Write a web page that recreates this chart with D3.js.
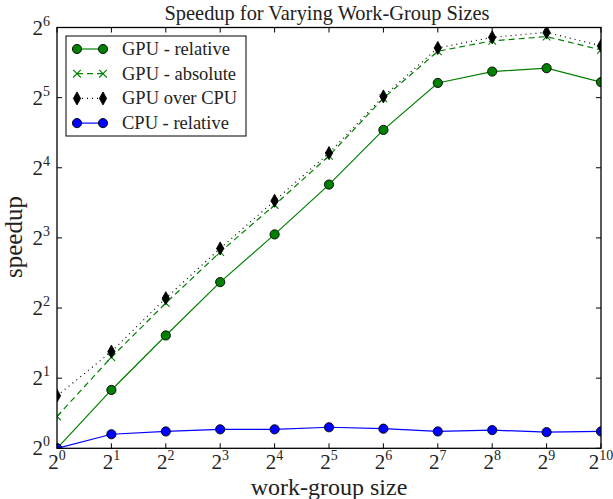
<!DOCTYPE html>
<html>
<head>
<meta charset="utf-8">
<script src="https://cdn.jsdelivr.net/npm/d3@7"></script>
<style>
  body { margin: 0; background: #fff; }
  svg { display: block; }
  text { font-family: "Liberation Serif", "DejaVu Serif", serif; fill: #222; }
</style>
</head>
<body>
<svg id="chart" width="613" height="499"></svg>
<script>
// Work-group sizes (powers of two)
const workGroupSizes = [1, 2, 4, 8, 16, 32, 64, 128, 256, 512, 1024];

// Speedup series
const gpuRelative = [1.0, 1.78, 3.05, 5.17, 8.28, 13.55, 23.26, 37.0, 41.4, 42.8, 37.3];
const gpuAbsolute = [1.37, 2.46, 4.20, 6.96, 11.08, 18.0, 31.8, 50.6, 56.1, 58.5, 51.3];
const gpuOverCpu  = [1.68, 2.60, 4.41, 7.21, 11.55, 18.5, 32.4, 52.3, 58.1, 61.0, 53.4];
const cpuRelative = [1.0, 1.149, 1.181, 1.206, 1.206, 1.231, 1.214, 1.181, 1.197, 1.173, 1.181];

// Tick exponents
const xTickExps = [0, 1, 2, 3, 4, 5, 6, 7, 8, 9, 10];
const yTickExps = [0, 1, 2, 3, 4, 5, 6];

const title = "Speedup for Varying Work-Group Sizes";
const xLabel = "work-group size";
const yLabel = "speedup";

const svg = d3.select("#chart");
const m = { left: 57, right: 601, top: 27.5, bottom: 448.3 };

const x = d3.scaleLog().base(2).domain([1, 1024]).range([m.left, m.right]);
const y = d3.scaleLog().base(2).domain([1, 64]).range([m.bottom, m.top]);

svg.append("defs").append("clipPath").attr("id", "plotClip")
  .append("rect")
  .attr("x", m.left).attr("y", m.top)
  .attr("width", m.right - m.left).attr("height", m.bottom - m.top);

const plot = svg.append("g").attr("clip-path", "url(#plotClip)");

const line = d3.line().x((d, i) => x(workGroupSizes[i])).y(d => y(d));

const series = [
  { name: "GPU - relative", values: gpuRelative, color: "#008000", dash: null, marker: "circle", fill: "#008000" },
  { name: "GPU - absolute", values: gpuAbsolute, color: "#008000", dash: "6,4", marker: "x", fill: "#008000" },
  { name: "GPU over CPU", values: gpuOverCpu, color: "#000", dash: "1,4", marker: "diamond", fill: "#000" },
  { name: "CPU - relative", values: cpuRelative, color: "#0000ff", dash: null, marker: "circle", fill: "#0000ff" }
];

function drawMarker(g, type, cx, cy, fill) {
  if (type === "circle") {
    g.append("circle").attr("cx", cx).attr("cy", cy).attr("r", 4.6)
      .attr("fill", fill).attr("stroke", "#000").attr("stroke-width", 0.9);
  } else if (type === "diamond") {
    g.append("path")
      .attr("d", `M${cx},${cy - 6.5}L${cx + 3.6},${cy}L${cx},${cy + 6.5}L${cx - 3.6},${cy}Z`)
      .attr("fill", fill).attr("stroke", "#000").attr("stroke-width", 0.9);
  } else if (type === "x") {
    const s = 3.8;
    g.append("path")
      .attr("d", `M${cx - s},${cy - s}L${cx + s},${cy + s}M${cx - s},${cy + s}L${cx + s},${cy - s}`)
      .attr("stroke", fill).attr("stroke-width", 1.1).attr("fill", "none");
  }
}

series.forEach(s => {
  plot.append("path")
    .attr("d", line(s.values))
    .attr("fill", "none")
    .attr("stroke", s.color)
    .attr("stroke-width", 1.2)
    .attr("stroke-dasharray", s.dash);
  s.values.forEach((v, i) => drawMarker(plot, s.marker, x(workGroupSizes[i]), y(v), s.fill));
});

// Frame and inward ticks on all four sides
const frame = svg.append("g");
frame.append("rect")
  .attr("x", m.left).attr("y", m.top)
  .attr("width", m.right - m.left).attr("height", m.bottom - m.top)
  .attr("fill", "none").attr("stroke", "#000").attr("stroke-width", 1.3);

const tickLen = 5;
xTickExps.forEach(e => {
  const px = x(Math.pow(2, e));
  frame.append("line").attr("x1", px).attr("x2", px).attr("y1", m.bottom).attr("y2", m.bottom - tickLen)
    .attr("stroke", "#000").attr("stroke-width", 1);
  frame.append("line").attr("x1", px).attr("x2", px).attr("y1", m.top).attr("y2", m.top + tickLen)
    .attr("stroke", "#000").attr("stroke-width", 1);
  const t = frame.append("text").attr("x", px).attr("y", 469).attr("text-anchor", "middle")
    .attr("font-size", 21);
  t.append("tspan").text("2");
  t.append("tspan").attr("dy", -9).attr("font-size", 14).text(e);
});
yTickExps.forEach(e => {
  const py = y(Math.pow(2, e));
  frame.append("line").attr("x1", m.left).attr("x2", m.left + tickLen).attr("y1", py).attr("y2", py)
    .attr("stroke", "#000").attr("stroke-width", 1);
  frame.append("line").attr("x1", m.right).attr("x2", m.right - tickLen).attr("y1", py).attr("y2", py)
    .attr("stroke", "#000").attr("stroke-width", 1);
  const t = frame.append("text").attr("x", 50).attr("y", py + 7).attr("text-anchor", "end")
    .attr("font-size", 21);
  t.append("tspan").text("2");
  t.append("tspan").attr("dy", -9).attr("font-size", 14).text(e);
});

// Title and axis labels
svg.append("text").attr("x", 327).attr("y", 20)
  .attr("text-anchor", "middle").attr("font-size", 20.4).text(title);
svg.append("text").attr("x", (m.left + m.right) / 2).attr("y", 495)
  .attr("text-anchor", "middle").attr("font-size", 24).text(xLabel);
svg.append("text").attr("transform", `translate(22,237) rotate(-90)`)
  .attr("text-anchor", "middle").attr("font-size", 25).text(yLabel);

// Legend
const lg = svg.append("g");
lg.append("rect").attr("x", 66).attr("y", 36).attr("width", 180).attr("height", 100)
  .attr("fill", "#fff").attr("stroke", "#000").attr("stroke-width", 1);
series.forEach((s, i) => {
  const ly = 49 + i * 24.7;
  lg.append("line").attr("x1", 77).attr("x2", 103).attr("y1", ly).attr("y2", ly)
    .attr("stroke", s.color).attr("stroke-width", 1.2).attr("stroke-dasharray", s.dash);
  drawMarker(lg, s.marker, 77, ly, s.fill);
  drawMarker(lg, s.marker, 103, ly, s.fill);
  lg.append("text").attr("x", 122).attr("y", ly + 6).attr("font-size", 18.5).text(s.name);
});
</script>
</body>
</html>
